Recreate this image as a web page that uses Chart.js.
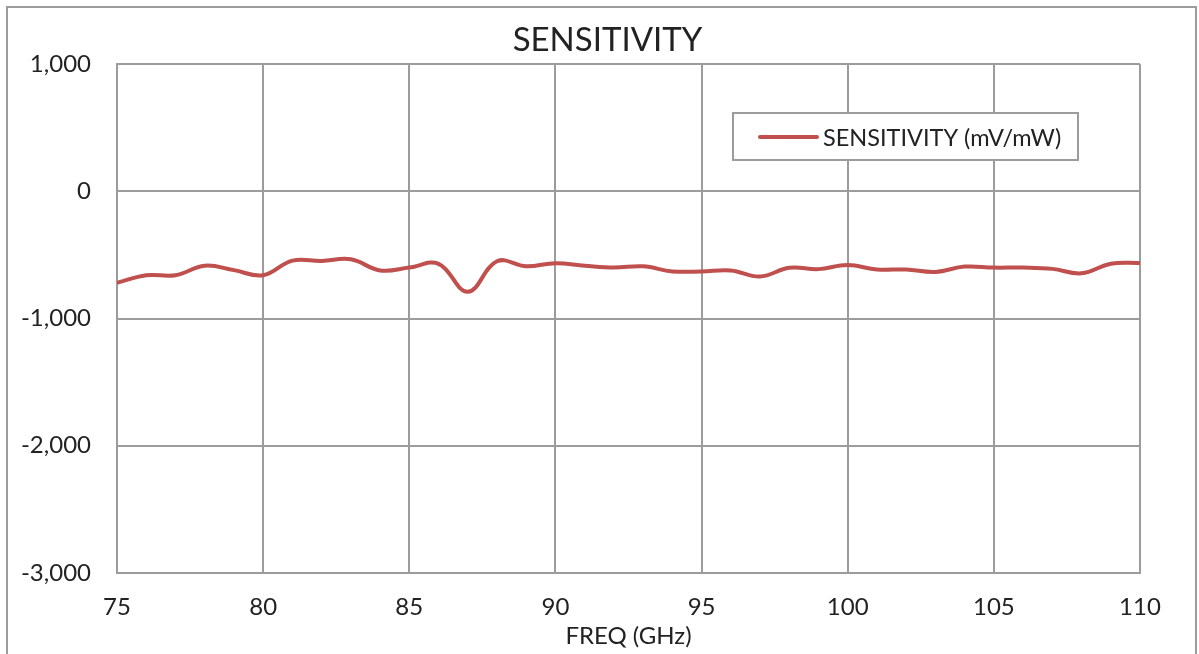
<!DOCTYPE html>
<html>
<head>
<meta charset="utf-8">
<script src="https://cdn.jsdelivr.net/npm/chart.js@4/dist/chart.umd.min.js"></script>
<style>
  html, body { margin: 0; padding: 0; background: #fff; }
  #wrap { width: 1199px; height: 654px; position: relative; }
</style>
</head>
<body>
<div id="wrap"><canvas id="sensChart" width="1199" height="654"></canvas></div>
<script>
// frequency points (GHz) and sensitivity readings (mV/mW)
const freqGHz = [75, 76, 77, 78, 79, 80, 81, 82, 83, 84, 85, 86, 87, 88, 89, 90, 91, 92,
                 93, 94, 95, 96, 97, 98, 99, 100, 101, 102, 103, 104, 105, 106, 107, 108, 109, 110];
const sensitivity = [-720, -660, -660, -585, -620, -660, -545, -548, -535, -622, -600, -570,
                     -790, -550, -590, -565, -585, -600, -590, -630, -630, -622, -670, -602,
                     -612, -580, -615, -615, -634, -592, -600, -600, -610, -645, -570, -563];
const xTicks = [75, 80, 85, 90, 95, 100, 105, 110];
const yTicks = [-3000, -2000, -1000, 0, 1000];

const seriesLabel = 'SENSITIVITY (mV/mW)';
const lineColor = '#C0504D';
const gridColor = '#9c9c9c';
const textColor = '#222222';
const fontFamily = 'Lato, "Open Sans", sans-serif';

// outer frame round the whole chart
const framePlugin = {
    id: 'frame',
    beforeDraw(chart) {
        const ctx = chart.ctx;
        ctx.save();
        ctx.strokeStyle = gridColor;
        ctx.lineWidth = 2;
        ctx.strokeRect(7, 7, 1189, 660);
        ctx.restore();
    }
};

// legend box sitting inside the plot, like the original
const boxLegendPlugin = {
    id: 'boxLegend',
    afterDraw(chart) {
        const ctx = chart.ctx;
        const ds = chart.data.datasets[0];
        ctx.save();
        ctx.fillStyle = '#fff';
        ctx.fillRect(733, 113, 345, 47);
        ctx.strokeStyle = gridColor;
        ctx.lineWidth = 2;
        ctx.strokeRect(733, 113, 345, 47);
        ctx.strokeStyle = ds.borderColor;
        ctx.lineWidth = 4;
        ctx.lineCap = 'round';
        ctx.beginPath();
        ctx.moveTo(760, 137);
        ctx.lineTo(817, 137);
        ctx.stroke();
        ctx.fillStyle = textColor;
        ctx.font = '23.5px ' + fontFamily;
        ctx.textBaseline = 'middle';
        ctx.fillText(ds.label, 823, 138);
        ctx.restore();
    }
};

const ctx = document.getElementById('sensChart').getContext('2d');
new Chart(ctx, {
    type: 'line',
    data: {
        datasets: [{
            label: seriesLabel,
            data: freqGHz.map((f, i) => ({ x: f, y: sensitivity[i] })),
            borderColor: lineColor,
            borderWidth: 4,
            pointRadius: 0,
            tension: 0.4,
            fill: false
        }]
    },
    options: {
        responsive: false,
        animation: false,
        layout: {
            padding: { left: 16, right: 0, top: 0, bottom: 0 }
        },
        scales: {
            x: {
                type: 'linear',
                min: 75,
                max: 110,
                afterBuildTicks: scale => { scale.ticks = xTicks.map(v => ({ value: v })); },
                afterFit: scale => { scale.height = 81; },
                grid: { color: gridColor, lineWidth: 2, drawTicks: false },
                border: { color: gridColor, width: 2 },
                ticks: {
                    color: textColor,
                    padding: 19.6,
                    font: { family: fontFamily, size: 24 }
                },
                title: {
                    display: true,
                    text: 'FREQ (GHz)',
                    color: textColor,
                    padding: { top: 0, bottom: 3.6 },
                    font: { family: fontFamily, size: 24 }
                }
            },
            y: {
                min: -3000,
                max: 1000,
                afterBuildTicks: scale => { scale.ticks = yTicks.map(v => ({ value: v })); },
                afterFit: scale => { scale.width = 101; },
                grid: { color: gridColor, lineWidth: 2, drawTicks: false },
                border: { color: gridColor, width: 2 },
                ticks: {
                    color: textColor,
                    padding: 26,
                    font: { family: fontFamily, size: 24 },
                    callback: v => v.toLocaleString('en-US')
                }
            },
            // empty right axis, only keeps the plot clear of the right edge
            yRight: {
                position: 'right',
                min: -3000,
                max: 1000,
                afterFit: scale => { scale.width = 59; },
                grid: { display: false },
                border: { display: false },
                ticks: { display: false }
            }
        },
        plugins: {
            legend: { display: false },
            tooltip: { enabled: false },
            title: {
                display: true,
                text: 'SENSITIVITY',
                color: textColor,
                padding: { top: 21, bottom: 3.4 },
                font: { family: fontFamily, size: 33, weight: 'normal' }
            }
        }
    },
    plugins: [framePlugin, boxLegendPlugin]
});
</script>
</body>
</html>
